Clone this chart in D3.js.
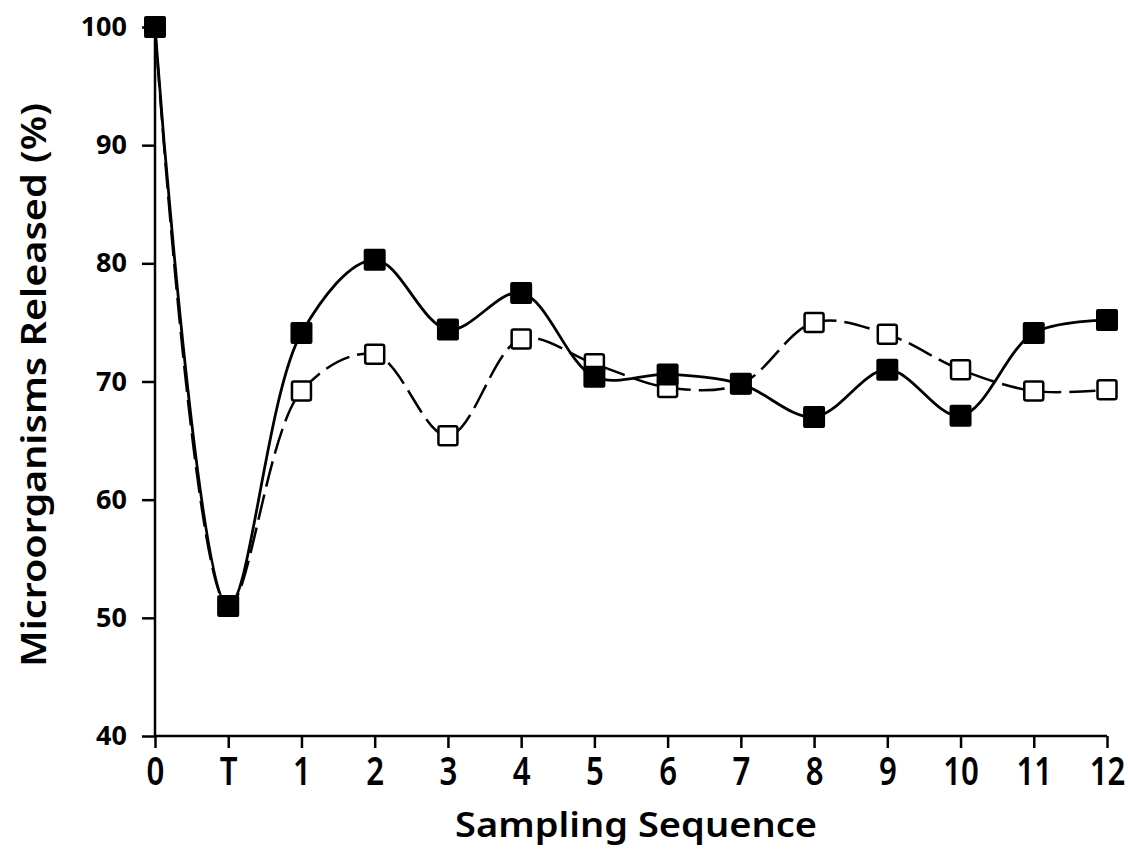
<!DOCTYPE html>
<html>
<head>
<meta charset="utf-8">
<script src="https://d3js.org/d3.v7.min.js"></script>
<style>
  body { margin: 0; background: white; }
  svg { display: block; }
  text { font-family: "Noto Sans", "DejaVu Sans", sans-serif; fill: #000; }
</style>
</head>
<body>
<svg id="chart" width="1128" height="852"></svg>
<script>
// values
var categories = ["0", "T", "1", "2", "3", "4", "5", "6", "7", "8", "9", "10", "11", "12"];
var filled_values = [100, 51, 74.1, 80.3, 74.4, 77.5, 70.4, 70.6, 69.8, 67.0, 71.0, 67.1, 74.1, 75.2];
var open_values   = [100, 51, 69.2, 72.3, 65.4, 73.6, 71.5, 69.5, 69.8, 75.0, 74.0, 71.0, 69.2, 69.3];
var y_ticks = [40, 50, 60, 70, 80, 90, 100];

var svg = d3.select("#chart");

var x = d3.scalePoint().domain(categories).range([155, 1107]);
var y = d3.scaleLinear().domain([40, 100]).range([736, 27]);

// axes
var xAxis = d3.axisBottom(x).tickSize(12).tickPadding(8);
var gx = svg.append("g").attr("transform", "translate(0," + y(40) + ")").call(xAxis);
gx.select(".domain").attr("d", "M" + x("0") + ",0H" + x("12"));
gx.selectAll("line").attr("stroke-width", 2.5);
// the scan's digits are tall and narrow, so squeeze them sideways
gx.selectAll("text")
    .style("font-size", "40px")
    .style("font-weight", "600")
    .attr("dy", "0.72em")
    .attr("transform", "scale(0.78,1)");

var yAxis = d3.axisLeft(y).tickValues(y_ticks).tickSize(13).tickPadding(15);
var gy = svg.append("g").attr("transform", "translate(" + x("0") + ",0)").call(yAxis);
gy.select(".domain").attr("d", "M0," + y(40) + "V" + y(100));
gy.selectAll("line").attr("stroke-width", 2.5);
gy.selectAll("text")
    .style("font-size", "27px")
    .style("font-weight", "700");

svg.selectAll(".domain").attr("stroke", "#000").attr("stroke-width", 2.5);

// series
var line = d3.line()
    .x(function(d, i) { return x(categories[i]); })
    .y(function(d) { return y(d); })
    .curve(d3.curveCatmullRom.alpha(0.5));

svg.append("path").datum(open_values)
    .attr("d", line)
    .attr("fill", "none")
    .attr("stroke", "#000")
    .attr("stroke-width", 2.5)
    .attr("stroke-dasharray", "26,8");

svg.append("path").datum(filled_values)
    .attr("d", line)
    .attr("fill", "none")
    .attr("stroke", "#000")
    .attr("stroke-width", 2.8);

var open_size = 19;
svg.selectAll("rect.open").data(open_values).enter().append("rect")
    .attr("class", "open")
    .attr("x", function(d, i) { return x(categories[i]) - open_size / 2; })
    .attr("y", function(d) { return y(d) - open_size / 2; })
    .attr("width", open_size)
    .attr("height", open_size)
    .attr("rx", 2)
    .attr("fill", "white")
    .attr("stroke", "#000")
    .attr("stroke-width", 2.5);

var filled_size = 22;
svg.selectAll("rect.filled").data(filled_values).enter().append("rect")
    .attr("class", "filled")
    .attr("x", function(d, i) { return x(categories[i]) - filled_size / 2; })
    .attr("y", function(d) { return y(d) - filled_size / 2; })
    .attr("width", filled_size)
    .attr("height", filled_size)
    .attr("rx", 2)
    .attr("fill", "#000");

// axis titles, stretched to the widths of the scan's wide lettering
svg.append("text")
    .attr("x", 455)
    .attr("y", 837)
    .attr("textLength", 362)
    .attr("lengthAdjust", "spacingAndGlyphs")
    .style("font-size", "34px")
    .style("font-weight", "600")
    .text("Sampling Sequence");

svg.append("text")
    .attr("transform", "translate(46,667) rotate(-90)")
    .attr("textLength", 564)
    .attr("lengthAdjust", "spacingAndGlyphs")
    .style("font-size", "35px")
    .style("font-weight", "600")
    .text("Microorganisms Released (%)");
</script>
</body>
</html>
